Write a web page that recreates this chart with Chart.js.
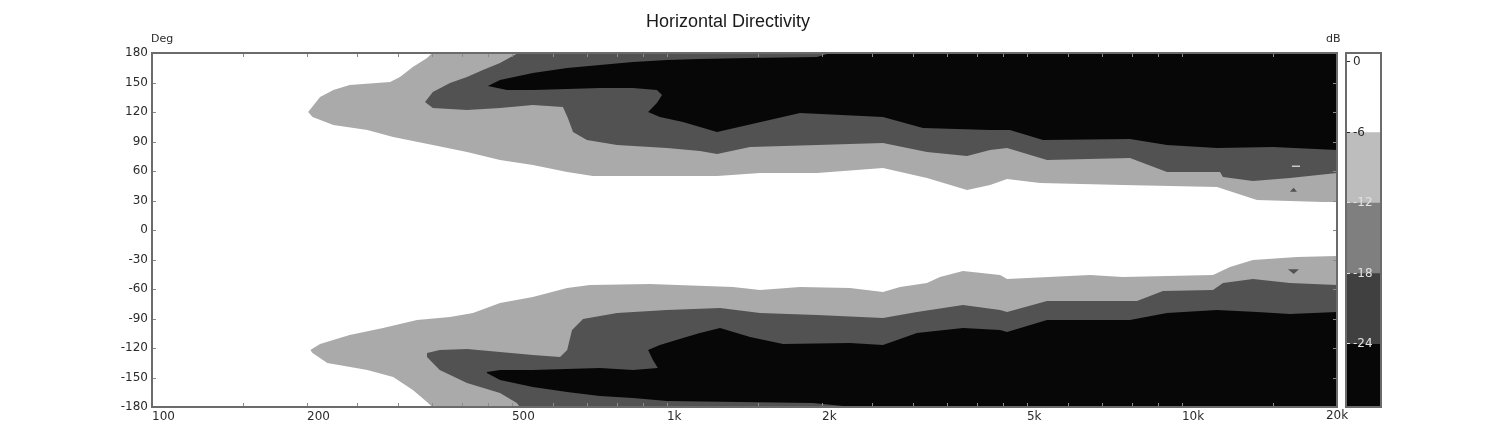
<!DOCTYPE html>
<html><head><meta charset="utf-8">
<script src="https://cdn.jsdelivr.net/npm/chart.js@4.4.1/dist/chart.umd.min.js"></script>
<style>
html,body{margin:0;padding:0;background:#fff;}
#wrap{position:relative;width:1500px;height:441px;overflow:hidden;}
#main{position:absolute;left:0;top:0;width:1500px;height:441px;}
#cbar{position:absolute;left:1345px;top:0;width:38px;height:441px;}
</style>
</head><body>
<div id="wrap"><canvas id="main" width="1500" height="441"></canvas><canvas id="cbar" width="38" height="441"></canvas></div>
<script>
// ---- axes ----
const xTickValues = [100,150,200,250,300,350,400,450,500,600,700,800,900,1000,1500,2000,2500,3000,3500,4000,4500,5000,6000,7000,8000,9000,10000,15000,20000];
const xTickLabels = {100:'100',200:'200',500:'500',1000:'1k',2000:'2k',5000:'5k',10000:'10k',20000:'20k'};
const yTickValues = [-180,-150,-120,-90,-60,-30,0,30,60,90,120,150,180];

// ---- contour regions [frequency Hz, angle deg] ----
// level <= -6 dB (upper lobe)
const upperLight = [[350,180],[20000,180],[20000,28.5],[18790,28.5],[13983,30.5],[11696,43.7],[7679,45.8],[5302,47.8],[4575,51.9],[4240,45.8],[3825,40.7],[3198,52.9],[2627,63.1],[1956,58],[1516,58],[1251,54.9],[927,54.9],[718,54.9],[640,59],[549,66.1],[474,71.2],[409,79.3],[351,86.4],[294,94.6],[262,101.7],[225,106.8],[205,114.9],[201,120],[212,135.3],[225,142.4],[242,147.5],[290,150.5],[303,155.6],[321,165.8],[342,175]];
// level <= -18 dB (upper lobe)
const upperDark = [[339,130.2],[351,140.3],[379,149.5],[409,155.6],[439,162.7],[474,169.8],[514,180],[20000,180],[20000,58],[16205,52.9],[13736,49.8],[12014,53.9],[11854,59],[9352,59],[7926,73.2],[5470,71.2],[4575,83.4],[4240,81.4],[3825,75.3],[3198,79.3],[2627,88.5],[1956,86.4],[1450,84.4],[1251,77.3],[1159,80.3],[1000,83.4],[800,86.4],[699,91.5],[657,99.7],[642,113.9],[628,125.1],[549,127.1],[474,124.1],[409,122],[351,124.1]];
// level <= -24 dB (upper lobe)
const upperBlack = [[449,146.4],[474,152.5],[549,159.7],[640,164.7],[741,167.8],[859,170.8],[1000,172.9],[1159,174],[1450,175],[1956,176],[2073,180],[20000,180],[20000,81.4],[15018,84.4],[11696,83.4],[9352,86.4],[7926,92.5],[5373,91.5],[4634,101.7],[4240,101.7],[3141,103.7],[2627,114.9],[1813,119],[1251,99.7],[1159,104.7],[1074,109.8],[969,114.9],[919,120],[956,129.2],[978,137.3],[956,142.4],[859,144.4],[741,144.4],[640,143.4],[549,142.4],[489,142.4]];
// lower lobe
const lowerLight = [[203,-122],[212,-116],[242,-106.8],[281,-99.7],[327,-91.5],[379,-88.5],[420,-84.4],[474,-74.2],[549,-68.1],[640,-59],[709,-55.9],[927,-54.9],[1344,-58],[1516,-61],[1813,-58],[2267,-59],[2627,-63.1],[2835,-58],[3198,-53.9],[3389,-47.8],[3757,-41.7],[4434,-45.8],[4575,-49.8],[6628,-45.8],[7679,-47.8],[11488,-45.8],[12396,-37.6],[13736,-30.5],[16720,-27.5],[20000,-26.4],[20000,-180],[350,-180],[342,-174.9],[321,-162.7],[294,-149.5],[262,-142.4],[219,-135.3],[205,-125.1]];
const lowerDark = [[342,-125.1],[362,-122],[409,-121],[474,-124.1],[549,-127.1],[620,-129.2],[640,-122],[654,-101.7],[687,-90.5],[800,-84.4],[1000,-81.4],[1268,-79.3],[1516,-84.4],[1956,-86.4],[2627,-89.5],[3058,-83.4],[3757,-76.3],[4434,-81.4],[4575,-83.4],[5470,-72.2],[8177,-72.2],[9186,-62],[11488,-61],[12014,-53.9],[13736,-49.8],[16205,-53.9],[20000,-55.9],[20000,-180],[518,-180],[511,-175.9],[474,-165.8],[409,-155.6],[362,-142.4],[342,-129.2]];
const lowerBlack = [[447,-144.4],[474,-142.4],[549,-142.4],[741,-140.3],[859,-142.4],[960,-140.3],[939,-132.2],[919,-122],[969,-116.9],[1074,-109.8],[1159,-104.7],[1268,-99.7],[1450,-108.8],[1680,-115.9],[2267,-114.9],[2627,-116.9],[3058,-104.7],[3757,-99.7],[4434,-101.7],[4575,-103.7],[5470,-91.5],[7926,-91.5],[9352,-84.4],[11696,-81.4],[13983,-83.4],[16205,-85.4],[20000,-83.4],[20000,-180],[2339,-180],[2197,-179],[1921,-175.9],[1000,-173.9],[859,-170.8],[741,-168.8],[640,-164.7],[549,-159.7],[474,-152.5],[447,-145.4]];
// small islands
const islandLight = [[16350,65.6],[16950,65.6],[16950,64.1],[16350,64.1]];
const islandDarkUp = [[16205,39],[16720,39],[16480,43]];
const islandDarkDown = [[16060,-40],[16870,-40],[16480,-44.8]];

// ---- colour bar ----
const dbTicks = [0,-6,-12,-18,-24];
const dbTickLabels = ['0','-6','-12','-18','-24'];
const dbBands = [[-6,0.7],[-12,-6],[-18,-12],[-24,-18],[-29.4,-24]];
const dbColors = ['#ffffff','#bdbdbd','#7f7f7f','#404040','#070707'];

const C_LIGHT = '#aaaaaa', C_DARK = '#525252', C_BLACK = '#070707';

Chart.defaults.font.family = '"DejaVu Sans", Verdana, sans-serif';
Chart.defaults.font.size = 12;

function poly(pts, color, order) {
  return { data: pts.map(([x, y]) => ({x, y})), fill: 'shape', backgroundColor: color,
           borderWidth: 0, pointRadius: 0, tension: 0, order: order };
}

const decor = {
  id: 'decor',
  afterDraw(chart) {
    const {ctx, chartArea: a, scales: {x, y}} = chart;
    ctx.save();
    ctx.strokeStyle = '#8c8c8c'; ctx.lineWidth = 1;
    ctx.beginPath();
    xTickValues.forEach(v => {
      if (v <= 100 || v >= 20000) return;
      const px = Math.round(x.getPixelForValue(v)) + 0.5;
      ctx.moveTo(px, a.top); ctx.lineTo(px, a.top + 4);
      ctx.moveTo(px, a.bottom); ctx.lineTo(px, a.bottom - 4);
    });
    yTickValues.forEach(v => {
      if (Math.abs(v) === 180) return;
      const py = Math.round(y.getPixelForValue(v)) + 0.5;
      ctx.moveTo(a.left, py); ctx.lineTo(a.left + 4, py);
      ctx.moveTo(a.right, py); ctx.lineTo(a.right - 4, py);
    });
    ctx.stroke();
    ctx.strokeStyle = '#6b6b6b'; ctx.lineWidth = 2;
    ctx.strokeRect(a.left, a.top, a.right - a.left, a.bottom - a.top);
    ctx.fillStyle = '#2b2b2b';
    ctx.font = '12px "DejaVu Sans", Verdana, sans-serif';
    ctx.textBaseline = 'top'; ctx.textAlign = 'center';
    ctx.fillText(xTickLabels[20000], x.getPixelForValue(20000), x.top + 3);
    ctx.textBaseline = 'middle'; ctx.textAlign = 'left';
    ctx.font = '11px "DejaVu Sans", Verdana, sans-serif';
    ctx.fillText('Deg', 151, 39);
    ctx.fillText('dB', 1326, 39);
    ctx.font = '18px "Liberation Sans", Arial, sans-serif';
    ctx.fillStyle = '#1a1a1a';
    ctx.textAlign = 'center';
    ctx.fillText('Horizontal Directivity', 728, 22);
    ctx.restore();
  }
};

new Chart(document.getElementById('main'), {
  type: 'line',
  data: { datasets: [
    poly(upperLight, C_LIGHT, 9), poly(lowerLight, C_LIGHT, 9),
    poly(upperDark, C_DARK, 8), poly(lowerDark, C_DARK, 8),
    poly(upperBlack, C_BLACK, 7), poly(lowerBlack, C_BLACK, 7),
    poly(islandLight, '#c8c8c8', 1), poly(islandDarkUp, C_DARK, 1), poly(islandDarkDown, C_DARK, 1)
  ]},
  options: {
    responsive: false, animation: false, events: [],
    layout: { padding: { top: 53, right: 163, bottom: 0, left: 0 } },
    plugins: { legend: { display: false }, tooltip: { enabled: false }, title: { display: false } },
    scales: {
      x: {
        type: 'logarithmic', min: 100, max: 20000,
        afterBuildTicks: s => { s.ticks = xTickValues.map(v => ({value: v})); },
        ticks: { autoSkip: false, maxRotation: 0, minRotation: 0, align: 'start', padding: 3, color: '#2b2b2b',
                 callback: v => (v === 20000 ? '' : (xTickLabels[v] || '')) },
        grid: { display: false, drawTicks: false }, border: { display: false },
        afterFit: s => { s.height = 34; s.paddingLeft = 0; s.paddingRight = 0; }
      },
      y: {
        type: 'linear', min: -180, max: 180,
        afterBuildTicks: s => { s.ticks = yTickValues.map(v => ({value: v})); },
        ticks: { autoSkip: false, padding: 4, color: '#2b2b2b' },
        grid: { display: false, drawTicks: false }, border: { display: false },
        afterFit: s => { s.width = 152; s.paddingTop = 0; s.paddingBottom = 0; }
      }
    }
  },
  plugins: [decor]
});

const cbarDecor = {
  id: 'cbarDecor',
  afterDraw(chart) {
    const {ctx, chartArea: a, scales: {y}} = chart;
    ctx.save();
    ctx.lineWidth = 1;
    ctx.font = '12px "DejaVu Sans", Verdana, sans-serif';
    ctx.textAlign = 'left'; ctx.textBaseline = 'middle';
    dbTicks.forEach((v, i) => {
      const py = Math.round(y.getPixelForValue(v)) + 0.5;
      const col = v <= -12 ? '#e2e2e2' : '#2b2b2b';
      ctx.strokeStyle = col; ctx.fillStyle = col;
      ctx.beginPath(); ctx.moveTo(a.left, py); ctx.lineTo(a.left + 4, py); ctx.stroke();
      ctx.fillText(dbTickLabels[i], a.left + 7, py);
    });
    ctx.strokeStyle = '#6b6b6b'; ctx.lineWidth = 2;
    ctx.strokeRect(a.left, a.top, a.right - a.left, a.bottom - a.top);
    ctx.restore();
  }
};

new Chart(document.getElementById('cbar'), {
  type: 'bar',
  data: { labels: ['dB'], datasets: dbBands.map((b, i) => ({
    data: [b], backgroundColor: dbColors[i], borderWidth: 0, grouped: false,
    barPercentage: 1, categoryPercentage: 1 })) },
  options: {
    responsive: false, animation: false, events: [],
    layout: { padding: { top: 53, bottom: 34, left: 1, right: 2 } },
    plugins: { legend: { display: false }, tooltip: { enabled: false } },
    scales: {
      x: { display: false },
      y: { display: false, min: -29.4, max: 0.7 }
    }
  },
  plugins: [cbarDecor]
});
</script>
</body></html>
